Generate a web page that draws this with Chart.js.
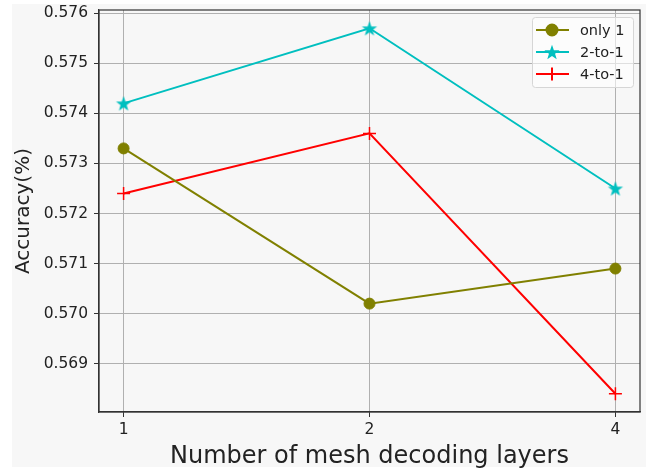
<!DOCTYPE html>
<html lang="en">
<head>
    <meta charset="UTF-8">
    <title>Accuracy vs mesh decoding layers</title>
    <script src="https://cdn.jsdelivr.net/npm/chart.js"></script>
    <style>
        html, body { margin: 0; padding: 0; background: #fff; overflow: hidden; }
        #wrap { position: absolute; left: 0; top: 0; width: 646px; height: 471px; overflow: hidden; }
    </style>
</head>
<body>
    <div id="wrap"><canvas id="accChart" width="649" height="471"></canvas></div>

    <script>
        // values
        const layerLabels = ['1', '2', '4'];
        const only1 = [0.5733, 0.5702, 0.5709];
        const twoTo1 = [0.5742, 0.5757, 0.5725];
        const fourTo1 = [0.5724, 0.5736, 0.5684];
        const yTicks = [0.569, 0.570, 0.571, 0.572, 0.573, 0.574, 0.575, 0.576];

        const FONT = "'DejaVu Sans', sans-serif";
        const olive = '#808000', cyan = '#00bfbf', red = '#ff0000';

        // filled 5-point star used as point style
        function makeStar(r, color) {
            const c = document.createElement('canvas');
            c.width = c.height = r * 2 + 2;
            const g = c.getContext('2d');
            g.fillStyle = color;
            g.beginPath();
            for (let i = 0; i < 10; i++) {
                const rad = i % 2 === 0 ? r : r * 0.4;
                const a = -Math.PI / 2 + i * Math.PI / 5;
                const px = r + 1 + rad * Math.cos(a), py = r + 1 + rad * Math.sin(a) + r * 0.1;
                i === 0 ? g.moveTo(px, py) : g.lineTo(px, py);
            }
            g.closePath();
            g.fill();
            return c;
        }
        const star = makeStar(8, cyan);

        const toPts = arr => arr.map((v, i) => ({ x: i, y: v }));

        // gray figure background + top/right frame + legend
        const framePlugin = {
            id: 'frame',
            beforeDraw(chart) {
                const ctx = chart.ctx;
                ctx.save();
                ctx.fillStyle = '#f7f7f7';
                ctx.fillRect(12, 4, 640, 463);
                ctx.restore();
            },
            afterDatasetsDraw(chart) {
                const { ctx, chartArea: a } = chart;
                ctx.save();
                ctx.strokeStyle = '#333';
                ctx.lineWidth = 1.2;
                ctx.strokeRect(a.left, a.top, a.right - a.left, a.bottom - a.top);
                ctx.restore();
            },
            afterDraw(chart) {
                const ctx = chart.ctx;
                const bx = 532, by = 17, bw = 101, bh = 70;
                ctx.save();
                ctx.fillStyle = 'rgba(255,255,255,0.6)';
                ctx.strokeStyle = '#d6d6d6';
                ctx.lineWidth = 1;
                ctx.beginPath();
                ctx.roundRect(bx + 0.5, by + 0.5, bw, bh, 3);
                ctx.fill();
                ctx.stroke();
                chart.data.datasets.forEach((ds, i) => {
                    const y = 30 + i * 22;
                    ctx.strokeStyle = ds.borderColor;
                    ctx.lineWidth = 2;
                    ctx.beginPath();
                    ctx.moveTo(536, y);
                    ctx.lineTo(569, y);
                    ctx.stroke();
                    ctx.fillStyle = ds.pointBackgroundColor;
                    ctx.strokeStyle = ds.pointBorderColor;
                    Chart.helpers.drawPoint(ctx, {
                        pointStyle: ds.pointStyle,
                        radius: ds.pointRadius,
                        borderWidth: ds.pointBorderWidth,
                        rotation: 0
                    }, 552, y);
                    ctx.fillStyle = '#222';
                    ctx.font = '14.5px ' + FONT;
                    ctx.textBaseline = 'middle';
                    ctx.fillText(ds.label, 580, y + 1);
                });
                ctx.restore();
            }
        };

        new Chart(document.getElementById('accChart'), {
            type: 'line',
            data: {
                datasets: [
                    {
                        label: 'only 1', data: toPts(only1),
                        borderColor: olive, borderWidth: 2,
                        pointStyle: 'circle', pointRadius: 5.5,
                        pointBackgroundColor: olive, pointBorderColor: olive, pointBorderWidth: 1
                    },
                    {
                        label: '2-to-1', data: toPts(twoTo1),
                        borderColor: cyan, borderWidth: 2,
                        pointStyle: star, pointRadius: 8,
                        pointBackgroundColor: cyan, pointBorderColor: cyan, pointBorderWidth: 1
                    },
                    {
                        label: '4-to-1', data: toPts(fourTo1),
                        borderColor: red, borderWidth: 2,
                        pointStyle: 'cross', pointRadius: 6.5,
                        pointBackgroundColor: red, pointBorderColor: red, pointBorderWidth: 1.5
                    }
                ]
            },
            options: {
                responsive: false,
                animation: false,
                layout: { padding: { top: 10, right: 6, left: 0, bottom: 0 } },
                plugins: { legend: { display: false }, tooltip: { enabled: false } },
                scales: {
                    x: {
                        type: 'linear',
                        min: -0.1, max: 2.1,
                        afterBuildTicks: s => { s.ticks = layerLabels.map((_, i) => ({ value: i })); },
                        afterFit: s => { s.height = 59; s.paddingLeft = 0; s.paddingRight = 0; },
                        ticks: {
                            callback: v => layerLabels[v],
                            font: { family: FONT, size: 15.5 }, color: '#222', padding: 4
                        },
                        grid: { color: '#b0b0b0', lineWidth: 1, tickLength: 5, tickColor: '#333' },
                        border: { color: '#333', width: 1.2 },
                        title: {
                            display: true, text: 'Number of mesh decoding layers',
                            font: { family: FONT, size: 24 }, color: '#222', padding: { top: 0, bottom: 0 }
                        }
                    },
                    y: {
                        min: 0.568035, max: 0.576065,
                        afterBuildTicks: s => { s.ticks = yTicks.map(v => ({ value: v })); },
                        afterFit: s => { s.width = 99; s.paddingTop = 0; s.paddingBottom = 0; },
                        ticks: {
                            callback: v => v.toFixed(3),
                            font: { family: FONT, size: 15.5 }, color: '#222', padding: 6
                        },
                        grid: { color: '#b0b0b0', lineWidth: 1, tickLength: 5, tickColor: '#333' },
                        border: { color: '#333', width: 1.2 },
                        title: {
                            display: true, text: 'Accuracy(%)',
                            font: { family: FONT, size: 20 }, color: '#222', padding: { top: 12, bottom: 0 }
                        }
                    }
                }
            },
            plugins: [framePlugin]
        });
    </script>
</body>
</html>
